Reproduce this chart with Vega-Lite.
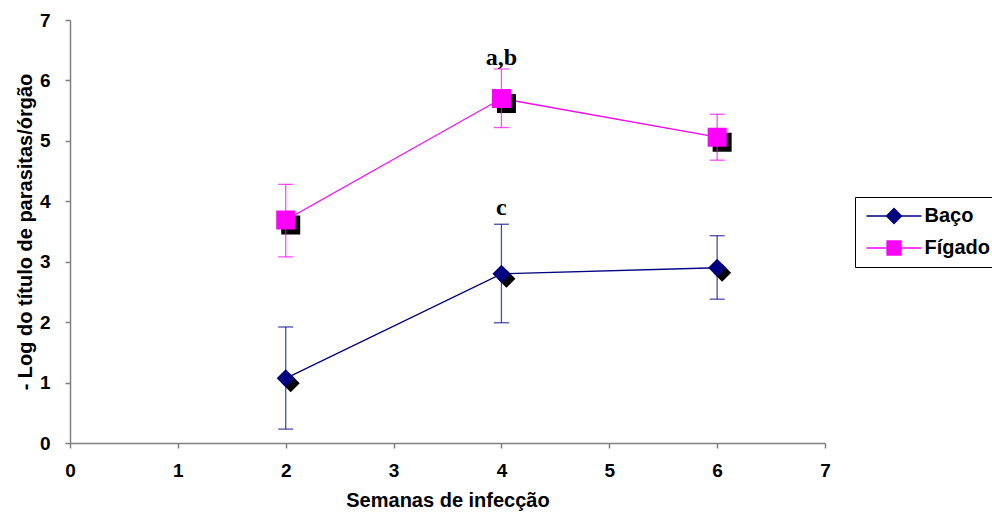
{
  "$schema": "https://vega.github.io/schema/vega-lite/v6.json",
  "width": 755,
  "height": 423,
  "autosize": "none",
  "padding": {"left": 70, "top": 20, "right": 167, "bottom": 81},
  "background": "white",
  "config": {
    "view": {"stroke": null},
    "font": "Liberation Sans",
    "axis": {
      "grid": false,
      "domainColor": "#808080",
      "domainWidth": 1.5,
      "tickColor": "#808080",
      "tickWidth": 1.5,
      "tickSize": 5,
      "labelFlush": false,
      "labelFont": "Liberation Sans",
      "labelFontSize": 19,
      "labelFontWeight": "bold",
      "labelColor": "black",
      "titleFont": "Liberation Sans",
      "titleFontSize": 20,
      "titleFontWeight": "bold",
      "titleColor": "black"
    },
    "legend": {
      "orient": "none",
      "legendX": 785,
      "legendY": 177,
      "padding": 9,
      "strokeColor": "black",
      "fillColor": "white",
      "labelFont": "Liberation Sans",
      "labelFontSize": 20,
      "labelFontWeight": "bold",
      "labelColor": "black",
      "symbolSize": 100,
      "symbolOffset": 20,
      "labelOffset": 20.5,
      "rowPadding": 11,
      "symbolOpacity": 1,
      "symbolStrokeWidth": 1.3
    }
  },
  "data": {
    "values": [
      {"serie": "Baço", "semana": 2, "media": 1.07, "lo": 0.23, "hi": 1.92},
      {"serie": "Baço", "semana": 4, "media": 2.8, "lo": 1.99, "hi": 3.62},
      {"serie": "Baço", "semana": 6, "media": 2.9, "lo": 2.38, "hi": 3.43},
      {"serie": "Fígado", "semana": 2, "media": 3.69, "lo": 3.08, "hi": 4.28},
      {"serie": "Fígado", "semana": 4, "media": 5.7, "lo": 5.22, "hi": 6.19},
      {"serie": "Fígado", "semana": 6, "media": 5.06, "lo": 4.68, "hi": 5.44}
    ]
  },
  "encoding": {
    "x": {
      "field": "semana",
      "type": "quantitative",
      "scale": {"domain": [0, 7], "nice": false, "zero": false},
      "axis": {"values": [0, 1, 2, 3, 4, 5, 6, 7], "format": "d", "title": "Semanas de infecção", "labelPadding": 13, "titlePadding": 10}
    }
  },
  "layer": [
    {
      "mark": {"type": "point", "filled": true, "opacity": 0},
      "encoding": {
        "y": {
          "field": "media",
          "type": "quantitative",
          "scale": {"domain": [0, 7], "nice": false},
          "axis": {"values": [0, 1, 2, 3, 4, 5, 6, 7], "format": "d", "title": "- Log do título de parasitas/órgão", "labelPadding": 15, "titlePadding": 4}
        },
        "color": {
          "field": "serie",
          "type": "nominal",
          "scale": {"domain": ["Baço", "Fígado"], "range": ["#000080", "#FF00FF"]},
          "legend": {
            "title": null,
            "symbolType": {"expr": "datum.value == 'Baço' ? 'M-5.5,0H5.5M-1.5,0L0,-1.5L1.5,0L0,1.5Z' : 'M-5.5,0H5.5M-1.4,-1.4H1.4V1.4H-1.4Z'"},
            "symbolStrokeColor": {"expr": "datum.value == 'Baço' ? '#000080' : '#FF00FF'"}
          }
        }
      }
    },
    {
      "mark": {"type": "line", "strokeWidth": 1.3},
      "encoding": {
        "y": {"field": "media", "type": "quantitative"},
        "color": {"field": "serie", "type": "nominal"}
      }
    },
    {
      "transform": [{"filter": "datum.serie == 'Baço'"}],
      "mark": {"type": "point", "filled": true, "opacity": 1, "color": "black", "shape": "diamond", "size": 324, "xOffset": 5, "yOffset": 5},
      "encoding": {"y": {"field": "media", "type": "quantitative"}}
    },
    {
      "transform": [{"filter": "datum.serie == 'Fígado'"}],
      "mark": {"type": "point", "filled": true, "opacity": 1, "color": "black", "shape": "square", "size": 361, "xOffset": 5, "yOffset": 5},
      "encoding": {"y": {"field": "media", "type": "quantitative"}}
    },
    {
      "mark": {"type": "rule", "strokeWidth": 1.3, "opacity": 0.7},
      "encoding": {
        "y": {"field": "lo", "type": "quantitative"},
        "y2": {"field": "hi"},
        "color": {"field": "serie", "type": "nominal"}
      }
    },
    {
      "mark": {"type": "tick", "orient": "horizontal", "size": 15, "thickness": 1.3, "opacity": 0.7},
      "encoding": {
        "y": {"field": "lo", "type": "quantitative"},
        "color": {"field": "serie", "type": "nominal"}
      }
    },
    {
      "mark": {"type": "tick", "orient": "horizontal", "size": 15, "thickness": 1.3, "opacity": 0.7},
      "encoding": {
        "y": {"field": "hi", "type": "quantitative"},
        "color": {"field": "serie", "type": "nominal"}
      }
    },
    {
      "transform": [{"filter": "datum.serie == 'Baço'"}],
      "mark": {"type": "point", "filled": true, "opacity": 1, "color": "#000080", "shape": "diamond", "size": 324},
      "encoding": {"y": {"field": "media", "type": "quantitative"}}
    },
    {
      "transform": [{"filter": "datum.serie == 'Fígado'"}],
      "mark": {"type": "point", "filled": true, "opacity": 1, "color": "#FF00FF", "shape": "square", "size": 361},
      "encoding": {"y": {"field": "media", "type": "quantitative"}}
    },
    {
      "data": {"values": [{"semana": 4, "pos": 6.26, "rotulo": "a,b"}, {"semana": 4, "pos": 3.77, "rotulo": "c"}]},
      "mark": {"type": "text", "font": "Liberation Serif", "fontSize": 24, "fontWeight": "bold", "color": "black", "align": "center", "baseline": "alphabetic"},
      "encoding": {
        "y": {"field": "pos", "type": "quantitative"},
        "text": {"field": "rotulo"}
      }
    }
  ]
}
